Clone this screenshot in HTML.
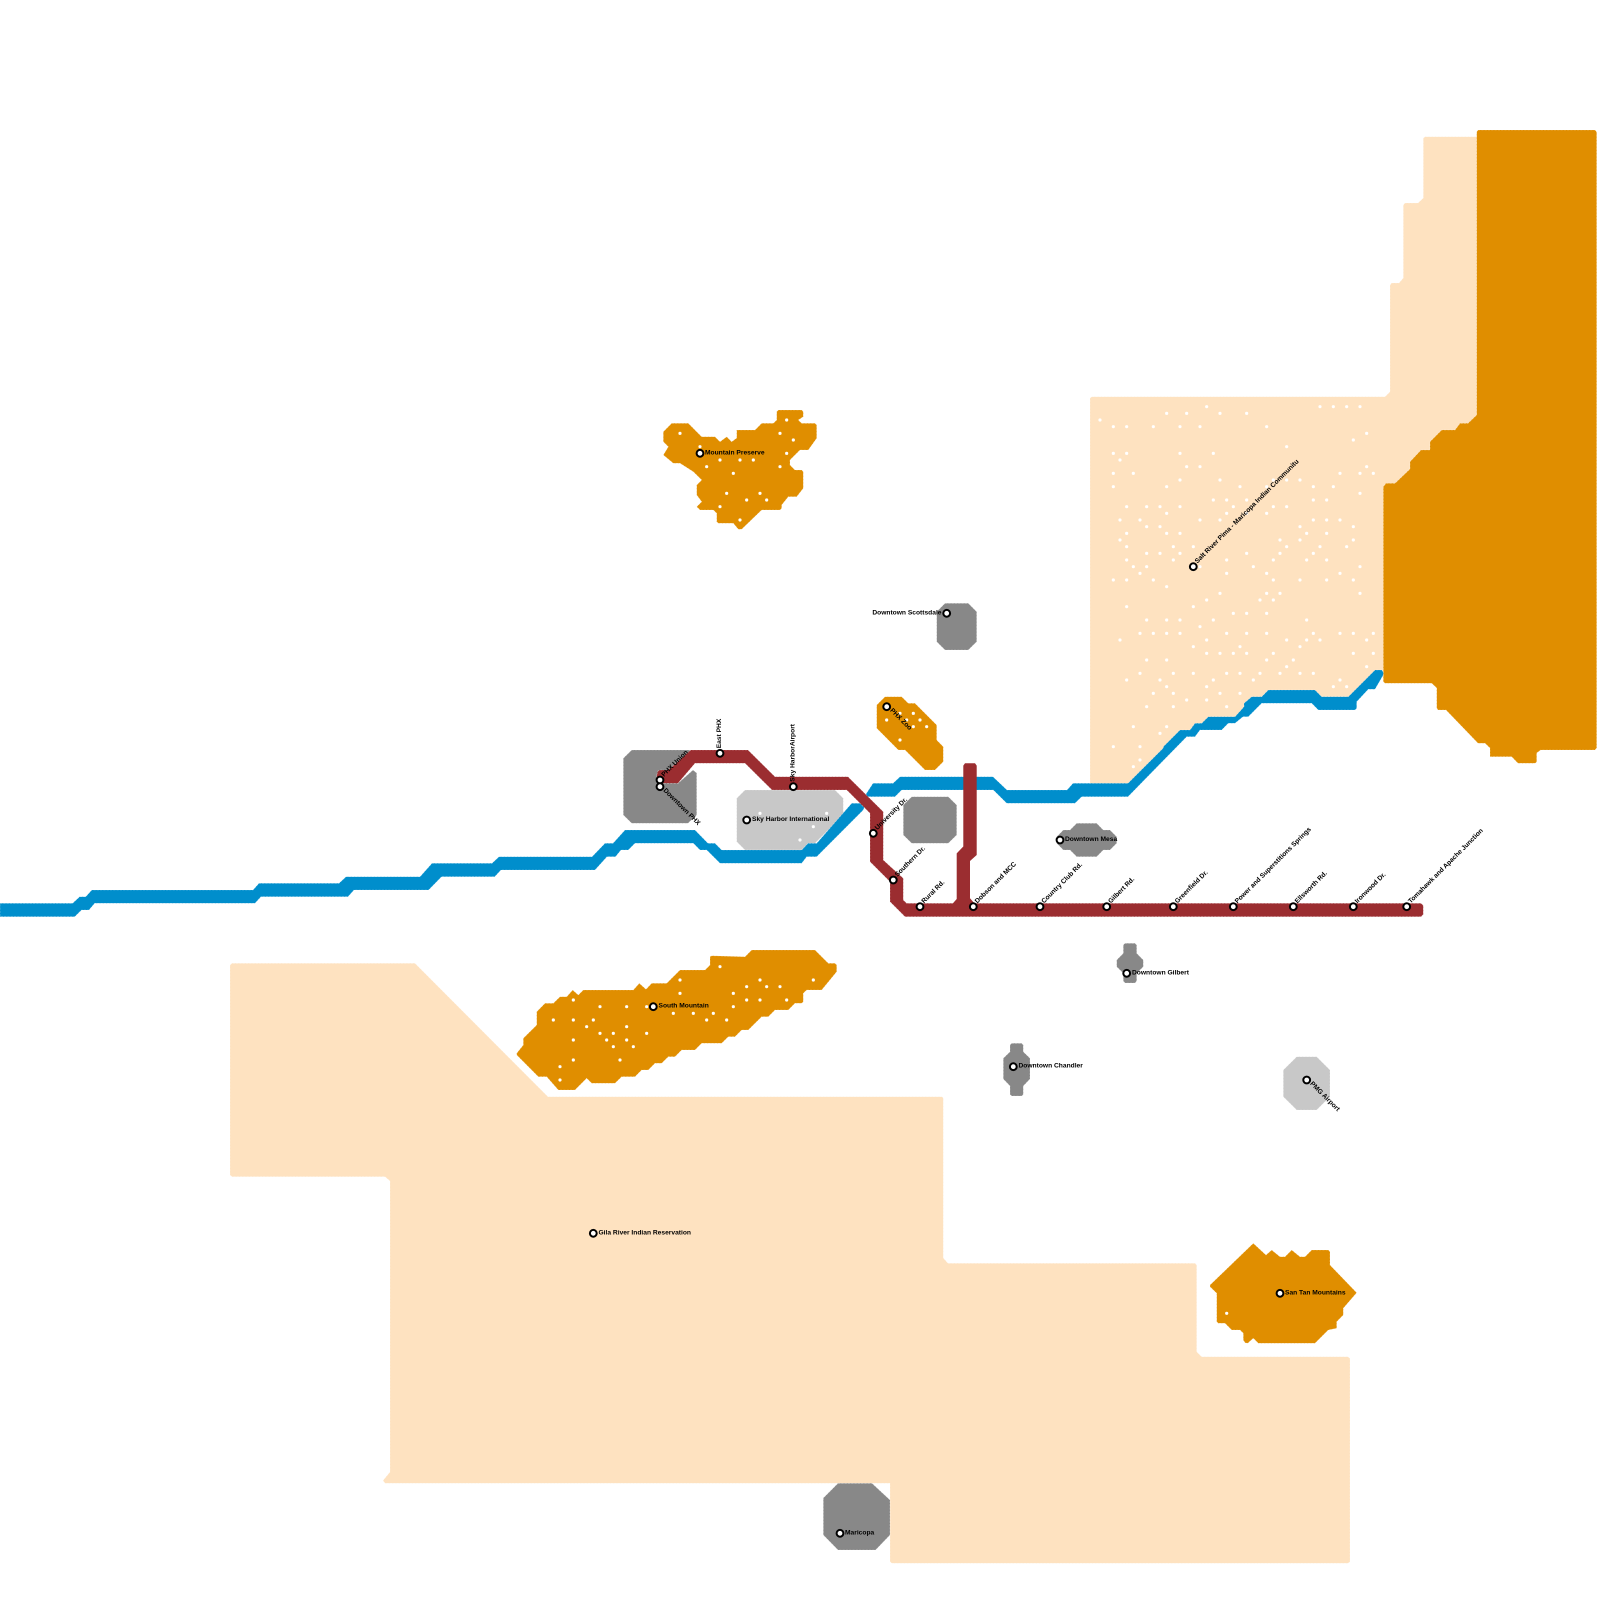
<!DOCTYPE html>
<html><head><meta charset="utf-8"><style>
html,body{margin:0;padding:0;background:#fff}
svg{display:block}
text{font-family:"Liberation Sans",sans-serif;font-size:6.67px;font-weight:bold;fill:#000;dominant-baseline:central}
.d{fill:none;stroke:#fff;stroke-linecap:round;stroke-width:9.5}
.s circle{fill:#fff;stroke:#000;stroke-width:2}
.e polygon{stroke:#fff;stroke-opacity:.45;stroke-width:.6;stroke-dasharray:2.2 1.1}
</style></head><body>
<svg width="1600" height="1600" viewBox="0 0 1600 1600" xmlns="http://www.w3.org/2000/svg">
<!-- pale regions -->
<g fill="#fee2c0" class="e">
<polygon points="1423.3,138 1425,136.7 1480,136.7 1480,690 1383,670 1377,677 1351,703 1317,703 1310,697 1268,697 1253,703 1240,717 1210,723 1186,737 1128,790 1090,790 1090,398 1092,396.7 1385,396.7 1390,391.7 1390,285 1391.7,283 1399,283 1403.3,278 1403.3,205 1405,203 1418,203 1423.3,198"/>
<polygon points="230,965 232,963.3 415,963.3 548,1096.7 942,1096.7 943.3,1098 943.3,1258 948,1263.3 1195,1263.3 1196.7,1265 1196.7,1351.7 1201.7,1356.7 1348,1356.7 1350,1358.5 1350,1561.7 1348,1563.3 892,1563.3 890,1561.7 890,1483.3 385,1483.3 383,1480.5 390,1472 390,1181 385,1176.7 232,1176.7 230,1175"/>
</g>
<!-- orange regions -->
<g fill="#e08e00" class="e">
<polygon points="1478,130 1595,130 1596.7,132 1596.7,748 1595,750 1540.7,750 1536.7,753 1536.7,762 1535,763.3 1518,763.3 1511.7,756.7 1490,756.7 1490,748 1485,743.3 1478,743.3 1446,710 1438,710 1436.7,708 1436.7,688 1431.7,683.3 1385,683.3 1383.3,681.7 1383.3,486.7 1386,483.3 1395,483.3 1410,469 1410,461.7 1421,450 1430,450 1430,441.7 1441.7,430 1455,430 1460,423.3 1468,423.3 1476.7,415 1476.7,132"/>
<polygon points="671.7,423.3 688.3,423.3 701.7,436.7 715,436.7 720,441.7 726.7,436.7 731.7,441.7 736.7,438 736.7,430 755,430 761.7,423.3 773.3,423.3 776.7,420 776.7,411.7 778.3,410 801.7,410 803.3,411.7 803.3,416.7 798.3,420 801.7,423.3 815,423.3 816.7,425 816.7,438.3 808.3,450 800,450 790,460 790,465 795,470 801.7,470 803.3,471.7 803.3,488.3 796.7,496.7 788.3,496.7 781.7,505 781.7,508.3 780,510 761.7,510 741.7,529.3 738.3,529.3 733.3,523.3 718.3,523.3 716.7,521.7 716.7,513.3 713.3,510 700,510 696.7,506.7 701.7,501.7 696.7,495 696.7,485 701.7,480 693.3,471.7 680,463.3 673.3,463.3 663.3,455 668.3,446.7 663.3,441.7 663.3,431.7"/>
<polygon points="516.7,1053.3 523.3,1045 523.3,1038.3 536.7,1025 536.7,1011.7 545,1003.3 553.3,1003.3 560,996.7 566.7,996.7 572.7,990 578.3,995 583.3,990 633.3,990 639.3,983.3 646,989.3 651.7,983.3 666.7,983.3 680,970 705,970 710,965 710,956.7 711.7,955.7 745,956.7 751.7,950 815,950 828.3,963.3 835,963.3 836.7,965 836.7,971.7 821.7,990 806.7,990 803.3,993.3 803.3,1001.7 801.7,1003.3 795,1003.3 788.3,1010 775,1010 768.3,1016.7 761.7,1016.7 748.3,1030 741.7,1030 735,1036.7 728.3,1036.7 721.7,1043.3 701.7,1043.3 695,1050 681.7,1050 675,1056.7 668.3,1056.7 661.7,1063.3 655,1063.3 648.3,1070 641.7,1070 635,1076.7 621.7,1076.7 615,1083.3 591.7,1083.3 586.7,1078.3 575,1090 558.3,1090 546.7,1076.7 538.3,1076.7 516.7,1055"/>
<polygon points="885,696.7 901.7,696.7 908.3,703.3 915,703.3 936.7,725 936.7,740 943.3,746.7 943.3,761.7 935,770 925,770 905,750 898.3,750 876.7,728.3 876.7,705"/>
<polygon points="1253.3,1243.3 1266,1255 1271.7,1250 1280,1256.7 1285,1256.7 1291.7,1250 1300,1256.7 1305,1256.7 1311.7,1250 1328.3,1250 1330,1251.7 1330,1265 1356.7,1292.7 1343.3,1308.3 1343.3,1315 1336.7,1321.7 1336.7,1328.3 1328.3,1330 1315,1343.3 1258.3,1343.3 1253.3,1338.3 1247.7,1343.3 1245,1342.7 1243.3,1340 1243.3,1333.3 1240,1330 1231.7,1330 1225,1323.3 1218.3,1323.3 1216.7,1321.7 1216.7,1293.3 1210,1286.7 1210,1285"/>
</g>
<!-- gray regions -->
<g fill="#888888" class="e">
<polygon points="631.7,750 690,750 685,764 675,781 678,783.3 693,770 696.7,773 696.7,815 688,823.3 631.7,823.3 623.3,815 623.3,758.3"/>
<polygon points="911.7,796.7 948.3,796.7 956.7,805 956.7,835 948.3,843.3 911.7,843.3 903.3,835 903.3,805"/>
<polygon points="945,603.3 968.3,603.3 976.7,611.7 976.7,641.7 968.3,650 945,650 936.7,641.7 936.7,611.7"/>
<polygon points="1076.7,823.3 1096.7,823.3 1103.3,830 1110,830 1116.7,836.7 1116.7,843.3 1110,850 1103.3,850 1096.7,856.7 1076.7,856.7 1070,850 1063.3,850 1056.7,843.3 1056.7,836.7 1063.3,830 1070,830"/>
<polygon points="1125,943.3 1135,943.3 1136.7,945 1136.7,953.3 1143.3,960 1143.3,966.7 1136.7,973.3 1136.7,981 1135,983 1125,983 1123.3,981 1123.3,973.3 1116.7,966.7 1116.7,960 1123.3,953.3 1123.3,945"/>
<polygon points="1011.7,1043.3 1021.7,1043.3 1023.3,1045 1023.3,1051.7 1030,1058.3 1030,1079 1023.3,1086 1023.3,1094.5 1021.7,1096 1011.7,1096 1010,1094.5 1010,1086 1003.3,1079 1003.3,1058.3 1010,1051.7 1010,1045"/>
<polygon points="838,1483.3 872,1483.3 890,1500 890,1535 875.6,1550 838,1550 823.3,1535 823.3,1498"/>
</g>
<g fill="#c8c8c8" class="e">
<polygon points="745,790 835,790 843.3,798.3 843.3,821 841.7,823.3 835,823.3 815,843.3 808,843.3 801.7,850 745,850 736.7,841.7 736.7,798.3"/>
<polygon points="1296.7,1056.7 1316.7,1056.7 1330,1070 1330,1096.7 1316.7,1110 1296.7,1110 1283.3,1096.7 1283.3,1070"/>
</g>
<!-- dots -->
<g transform="translate(1080 390) scale(.33333)"><path class="d" d="M380 50h0M720 50h0M760 50h0M800 50h0M840 50h0M260 70h0M320 70h0M420 70h0M500 70h0M60 90h0M100 110h0M140 110h0M220 110h0M300 110h0M360 110h0M560 110h0M860 130h0M820 150h0M620 170h0M100 190h0M140 190h0M300 190h0M400 190h0M120 210h0M320 230h0M360 230h0M860 230h0M100 250h0M160 250h0M780 250h0M840 250h0M880 250h0M300 270h0M420 270h0M580 270h0M620 270h0M660 270h0M100 290h0M260 290h0M480 290h0M560 290h0M700 290h0M760 290h0M840 310h0M400 330h0M440 330h0M500 330h0M700 330h0M740 330h0M140 350h0M200 350h0M240 350h0M300 350h0M460 350h0M580 350h0M620 350h0M260 370h0M440 370h0M500 370h0M560 370h0M120 390h0M180 390h0M360 390h0M420 390h0M700 390h0M740 390h0M780 390h0M200 410h0M240 410h0M660 410h0M820 410h0M140 430h0M260 430h0M300 430h0M680 430h0M740 430h0M120 450h0M600 450h0M660 450h0M820 450h0M140 470h0M280 470h0M340 470h0M620 470h0M720 470h0M800 470h0M200 490h0M240 490h0M300 490h0M500 490h0M600 490h0M700 490h0M140 510h0M280 510h0M440 510h0M580 510h0M680 510h0M740 510h0M160 530h0M200 530h0M360 530h0M520 530h0M840 530h0M180 550h0M440 550h0M560 550h0M780 550h0M100 570h0M140 570h0M220 570h0M580 570h0M660 570h0M740 570h0M820 570h0M260 590h0M420 610h0M560 610h0M600 610h0M840 610h0M380 630h0M540 630h0M580 630h0M140 650h0M340 650h0M460 670h0M500 670h0M560 670h0M200 690h0M260 690h0M300 690h0M400 690h0M680 690h0M360 710h0M180 730h0M220 730h0M260 730h0M300 730h0M440 730h0M500 730h0M560 730h0M700 730h0M780 730h0M820 730h0M880 730h0M120 750h0M380 750h0M620 750h0M680 750h0M720 750h0M860 750h0M340 770h0M480 770h0M660 770h0M380 790h0M420 790h0M460 790h0M500 790h0M580 790h0M820 790h0M880 790h0M200 810h0M260 810h0M560 810h0M640 810h0M620 830h0M860 830h0M180 850h0M280 850h0M340 850h0M440 850h0M480 850h0M540 850h0M600 850h0M660 850h0M700 850h0M140 870h0M240 870h0M400 870h0M520 870h0M780 870h0M260 890h0M380 890h0M760 890h0M800 890h0M220 910h0M280 910h0M420 910h0M480 910h0M320 930h0M380 930h0M200 950h0M280 950h0M440 950h0M160 1010h0M260 1010h0M240 1030h0M100 1070h0M180 1070h0M180 1110h0M160 1130h0"/></g>
<g transform="translate(640 390) scale(.33333)"><path class="d" d="M120 130h0M180 170h0M240 210h0M300 210h0M340 210h0M200 230h0M280 250h0M420 130h0M440 90h0M460 150h0M440 190h0M420 230h0M260 310h0M320 330h0M360 310h0M380 330h0M240 350h0M300 390h0"/></g>
<g transform="translate(500 940) scale(.33333)"><path class="d" d="M660 80h0M540 120h0M540 160h0M780 120h0M740 140h0M800 140h0M840 140h0M940 120h0M700 160h0M740 180h0M780 180h0M860 180h0M700 200h0M220 180h0M300 200h0M380 200h0M440 200h0M520 220h0M580 220h0M640 220h0M620 240h0M680 240h0M160 240h0M220 240h0M280 240h0M260 260h0M380 260h0M300 280h0M340 280h0M440 280h0M320 300h0M380 300h0M220 300h0M340 320h0M400 320h0M220 360h0M360 360h0M180 380h0M180 420h0"/></g>
<g transform="translate(600 680) scale(.33333)"><path class="d" d="M900 100h0M940 100h0M860 120h0M920 120h0M960 120h0M940 140h0M980 140h0M900 180h0M480 400h0M680 400h0M640 440h0M600 480h0"/></g>
<path class="d" style="stroke-width:3.2" d="M1226.7 1313.3h0M886.5 1486.7h0"/>
<!-- river -->
<g fill="#008ecc" class="e">
<polygon points="0,903.3 72.6,903.3 79.6,896.7 85.7,896.7 91.8,890 253,890 259,883.3 339,883.3 346,876.7 420,876.7 432,863.3 492,863.3 499,856.7 592,856.7 605,843.3 613,843.3 625,830 695,830 708,843.3 715,843.3 721.7,850 801.7,850 808,843.3 816.7,843.3 851.7,803.3 860,803.3 873,783.3 893,783.3 900,776.7 993,776.7 1007,790 1067,790 1073,783.3 1128,783.3 1163.3,748 1163.3,746.7 1180,730 1190,730 1195,723.3 1201.7,723.3 1208.3,716.7 1235,716.7 1244,706.7 1244,703.3 1251.7,696.7 1261.7,696.7 1268.3,690 1315,690 1321.7,696.7 1348.3,696.7 1375,670 1381.7,670 1383.3,672 1383.3,675 1375,689.3 1368.3,689.3 1356.7,701.7 1356.7,708.3 1355,710 1318.3,710 1311.7,703.3 1261.7,703.3 1248.3,716.7 1243,716.7 1235,723.3 1228.3,723.3 1221.7,730 1200,730 1195,736.7 1186.7,736.7 1128,796.7 1081.7,796.7 1075,803.3 1006.7,803.3 993.3,790 901.7,790 895,796.7 868,796.7 863.3,810 816.7,856.7 806.7,856.7 801.7,863.3 720,863.3 706.7,850 700,850 693.3,843.3 635,843.3 628.3,850 621,850 615.5,856.7 607,856.7 595,870 501,870 494.7,876.7 441.6,876.7 428.6,890 354,890 348,896.7 261,896.7 255,903.3 94.7,903.3 89,910 81.6,910 74.7,916.7 0,916.7"/>
</g>
<!-- red -->
<g fill="#9b2d30" class="e">
<polygon points="656.7,775 658,771 660,770 668.3,770 690.7,750 748,750 775,776.7 848,776.7 883.3,811.7 883.3,860 903.3,878.3 903.3,900 906.7,903.3 1421,903.3 1423.3,905.5 1423.3,914.5 1421,916.7 905,916.7 890,901.7 890,881.7 870,861.7 870,813.3 846.7,790 772,790 745,763.3 695,763.3 678,783.3 660,783.3 656.7,780"/>
</g>
<polygon fill="#9b2d30" points="963.3,765.6 965,763.3 975,763.3 976.7,765.6 976.7,855 970,861 970,898.2 975,904 952.3,904 956.7,899 956.7,853.4 963.3,846.5"/>
<!-- stations -->
<g class="s">
<circle cx="660" cy="780" r="3.4"/><circle cx="660" cy="786.7" r="3.4"/><circle cx="720" cy="753.3" r="3.4"/><circle cx="793.3" cy="786.7" r="3.4"/><circle cx="746.7" cy="820" r="3.4"/><circle cx="886.7" cy="706.7" r="3.4"/><circle cx="873.3" cy="833.3" r="3.4"/><circle cx="893.3" cy="880" r="3.4"/><circle cx="920" cy="906.7" r="3.4"/><circle cx="973.3" cy="906.7" r="3.4"/><circle cx="1040" cy="906.7" r="3.4"/><circle cx="1106.7" cy="906.7" r="3.4"/><circle cx="1173.3" cy="906.7" r="3.4"/><circle cx="1233.3" cy="906.7" r="3.4"/><circle cx="1293.3" cy="906.7" r="3.4"/><circle cx="1353.3" cy="906.7" r="3.4"/><circle cx="1406.7" cy="906.7" r="3.4"/><circle cx="1060" cy="840" r="3.4"/><circle cx="1126.7" cy="973.3" r="3.4"/><circle cx="1013.3" cy="1066.7" r="3.4"/><circle cx="1306.7" cy="1080" r="3.4"/><circle cx="946.7" cy="613.3" r="3.4"/><circle cx="1193.3" cy="566.7" r="3.4"/><circle cx="700" cy="453.3" r="3.4"/><circle cx="653.3" cy="1006.7" r="3.4"/><circle cx="593.3" cy="1233.3" r="3.4"/><circle cx="840" cy="1533.3" r="3.4"/><circle cx="1280" cy="1293.3" r="3.4"/>
</g>
<!-- labels -->
<text transform="translate(660 780) rotate(-45)" x="5" y="-0.8">PHX Union</text>
<text transform="translate(660 786.7) rotate(45)" x="5" y="-0.8">Downtown PHX</text>
<text transform="translate(720 753.3) rotate(-90)" x="5" y="-0.3">East PHX</text>
<text transform="translate(793.3 786.7) rotate(-90)" x="5" y="-0.5">Sky HarborAirport</text>
<text x="752" y="819.5">Sky Harbor International</text>
<text transform="translate(886.7 706.7) rotate(45)" x="5" y="-0.8">PHX Zoo</text>
<text transform="translate(873.3 833.3) rotate(-45)" x="5" y="-0.8">University Dr.</text>
<text transform="translate(893.3 880) rotate(-45)" x="5" y="-0.8">Southern Dr.</text>
<text transform="translate(920 906.7) rotate(-45)" x="5" y="-0.8">Rural Rd.</text>
<text transform="translate(973.3 906.7) rotate(-45)" x="5" y="-0.8">Dobson and MCC</text>
<text transform="translate(1040 906.7) rotate(-45)" x="5" y="-0.8">Country Club Rd.</text>
<text transform="translate(1106.7 906.7) rotate(-45)" x="5" y="-0.8">Gilbert Rd.</text>
<text transform="translate(1173.3 906.7) rotate(-45)" x="5" y="-0.8">Greenfield Dr.</text>
<text transform="translate(1233.3 906.7) rotate(-45)" x="5" y="-0.8">Power and Superstitions Springs</text>
<text transform="translate(1293.3 906.7) rotate(-45)" x="5" y="-0.8">Ellsworth Rd.</text>
<text transform="translate(1353.3 906.7) rotate(-45)" x="5" y="-0.8">Ironwood Dr.</text>
<text transform="translate(1406.7 906.7) rotate(-45)" x="5" y="-0.8">Tomahawk and Apache Junction</text>
<text x="1065" y="839.5">Downtown Mesa</text>
<text x="1132" y="972.8">Downtown Gilbert</text>
<text x="1018.5" y="1066">Downtown Chandler</text>
<text transform="translate(1306.7 1080) rotate(45)" x="5" y="-0.8">PMG Airport</text>
<text x="941.5" y="612.8" text-anchor="end">Downtown Scottsdale</text>
<text transform="translate(1193.3 566.7) rotate(-45)" x="5" y="-0.8">Salt River Pima - Maricopa Indian Communitu</text>
<text x="705" y="452.8">Mountain Preserve</text>
<text x="658.5" y="1006">South Mountain</text>
<text x="598.5" y="1232.8">Gila River Indian Reservation</text>
<text x="845" y="1532.8">Maricopa</text>
<text x="1285" y="1292.8">San Tan Mountains</text>
</svg>
</body></html>
